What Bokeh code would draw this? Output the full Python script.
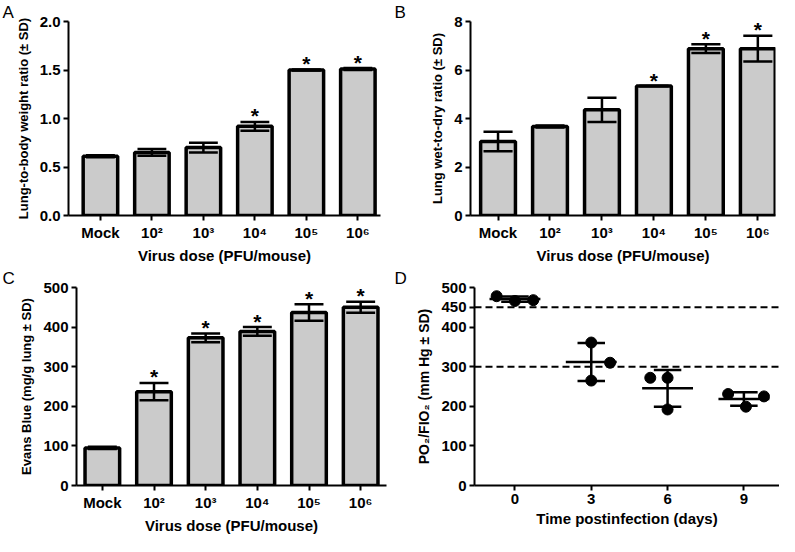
import numpy as np
from bokeh.plotting import figure
from bokeh.layouts import column, row
from bokeh.models import Range1d, FixedTicker, Span
from bokeh.core.properties import value
from bokeh.embed import file_html
from bokeh.resources import INLINE

# ---------------- data ----------------
dose_labels = ["Mock", "10²", "10³", "10⁴", "10⁵", "10⁶"]

a_mean = [0.61, 0.65, 0.70, 0.92, 1.50, 1.51]
a_sd = [0.010, 0.035, 0.050, 0.045, 0.006, 0.010]
a_sig = [False, False, False, True, True, True]

b_mean = [3.05, 3.67, 4.36, 5.34, 6.88, 6.88]
b_sd = [0.40, 0.04, 0.50, 0.0, 0.18, 0.53]
b_sig = [False, False, False, True, True, True]

c_mean = [95, 237, 373, 389, 437, 450]
c_sd = [3, 22, 11, 11, 21, 14]
c_sig = [False, True, True, True, True, True]

d_days = [0, 3, 6, 9]
d_values = [[478, 466, 468], [361, 310, 265], [272, 272, 192], [231, 225, 199]]
d_xpos = [[-0.72, 0.0, 0.72], [3.0, 3.74, 3.0], [5.32, 6.0, 6.0], [8.38, 9.79, 9.08]]
d_thresholds = [450, 300]

FONT = "Liberation Sans"
FONT_V = value(FONT)


def style(p, xlab, ylab, letter, letter_offset, ylab_size="13px"):
    p.outline_line_color = None
    p.xgrid.visible = False
    p.ygrid.visible = False
    p.background_fill_color = "white"
    p.border_fill_color = "white"
    for ax in (p.xaxis[0], p.yaxis[0]):
        ax.axis_line_width = 2
        ax.axis_line_color = "black"
        ax.major_tick_line_width = 2
        ax.major_tick_line_color = "black"
        ax.major_tick_out = 5
        ax.major_tick_in = 0
        ax.minor_tick_line_color = None
        ax.major_label_text_font = FONT
        ax.major_label_text_font_style = "bold"
        ax.major_label_text_font_size = "15px"
        ax.major_label_text_color = "black"
        ax.axis_label_text_font = FONT
        ax.axis_label_text_font_style = "bold"
        ax.axis_label_text_color = "black"
    p.xaxis.axis_label = xlab
    p.yaxis.axis_label = ylab
    p.xaxis.axis_label_text_font_size = "15px"
    p.yaxis.axis_label_text_font_size = ylab_size
    p.xaxis.axis_label_standoff = 3
    p.yaxis.axis_label_standoff = 6
    p.xaxis.major_label_standoff = 3
    p.yaxis.major_label_standoff = 3
    p.title.text = letter
    p.title.align = "left"
    p.title.offset = letter_offset
    p.title.standoff = 0
    p.title.text_font = FONT
    p.title.text_font_style = "normal"
    p.title.text_font_size = "17px"
    p.title.text_color = "black"


def bar_panel(mean, sd, sig, ylab, yend, yticks, fmt, xr, w, h, borders, letter, loff):
    p = figure(width=w, height=h, output_backend="svg", toolbar_location=None,
               x_range=Range1d(*xr), y_range=Range1d(0, yend),
               min_border_left=borders[0], min_border_right=borders[1],
               min_border_top=borders[2], min_border_bottom=borders[3])
    x = np.arange(len(mean))
    mean = np.array(mean, dtype=float)
    sd = np.array(sd, dtype=float)
    p.vbar(x=x, top=mean, bottom=0, width=0.67, fill_color="#cbcbcb",
           line_color="black", line_width=3.5)
    lo, hi = mean - sd, mean + sd
    p.segment(x0=x, y0=lo, x1=x, y1=hi, line_color="black", line_width=2.5)
    cap = 0.28
    p.segment(x0=x - cap, y0=hi, x1=x + cap, y1=hi, line_color="black", line_width=2.5)
    p.segment(x0=x - cap, y0=lo, x1=x + cap, y1=lo, line_color="black", line_width=2.5)
    sx = [xi for xi, s in zip(x, sig) if s]
    sy = [yi for yi, s in zip(hi, sig) if s]
    p.text(x=sx, y=sy, text=["*"] * len(sx), text_align="center",
           text_baseline="alphabetic", y_offset=-6, text_font_size="21px",
           text_font_style="bold", text_font=FONT_V, text_color="black")
    style(p, "Virus dose (PFU/mouse)", ylab, letter, loff)
    p.xaxis.ticker = FixedTicker(ticks=list(range(len(dose_labels))))
    p.xaxis.major_label_overrides = {i: t for i, t in enumerate(dose_labels)}
    p.yaxis.ticker = FixedTicker(ticks=yticks)
    p.yaxis.major_label_overrides = {t: fmt.format(t) for t in yticks}
    return p


pA = bar_panel(a_mean, a_sd, a_sig, "Lung-to-body weight ratio (± SD)", 2.0,
               [0, 0.5, 1.0, 1.5, 2.0], "{:.1f}", (-0.62, 5.44), 392, 266,
               (68, 12, 10, 46), "A", -66)
pB = bar_panel(b_mean, b_sd, b_sig, "Lung wet-to-dry ratio (± SD)", 8,
               [0, 2, 4, 6, 8], "{:d}", (-0.53, 5.34), 387, 266,
               (78, 4, 10, 46), "B", -76)
pC = bar_panel(c_mean, c_sd, c_sig, "Evans Blue (mg/g lung ± SD)", 500,
               [0, 100, 200, 300, 400, 500], "{:d}", (-0.50, 5.50), 392, 270,
               (76, 6, 10, 44), "C", -74)

# ---------------- panel D ----------------
pD = figure(width=387, height=270, output_backend="svg", toolbar_location=None,
            x_range=Range1d(-1.59, 10.4), y_range=Range1d(0, 500),
            min_border_left=82, min_border_right=0, min_border_top=10,
            min_border_bottom=44)
for t in d_thresholds:
    pD.add_layout(Span(location=t, dimension="width", line_color="black",
                       line_width=2, line_dash="7 4"))
vals = np.array(d_values, dtype=float)
days = np.array(d_days, dtype=float)
means = vals.mean(axis=1)
sds = vals.std(axis=1, ddof=1)
pD.segment(x0=days - 1.0, y0=means, x1=days + 1.0, y1=means, line_color="black", line_width=2.5)
pD.segment(x0=days, y0=means - sds, x1=days, y1=means + sds, line_color="black", line_width=2.5)
pD.segment(x0=days - 0.54, y0=means + sds, x1=days + 0.54, y1=means + sds, line_color="black", line_width=2.5)
pD.segment(x0=days - 0.54, y0=means - sds, x1=days + 0.54, y1=means - sds, line_color="black", line_width=2.5)
pD.scatter(x=np.array(d_xpos).ravel(), y=vals.ravel(), size=11, color="black")
style(pD, "Time postinfection (days)", "PO₂/FIO₂ (mm Hg ± SD)", "D", -80, "14px")
pD.xaxis.ticker = FixedTicker(ticks=d_days)
pD.yaxis.ticker = FixedTicker(ticks=[0, 100, 200, 300, 400, 450, 500])

layout = column(row(pA, pB), row(pC, pD))
open("out.html", "w").write(file_html(layout, INLINE))
